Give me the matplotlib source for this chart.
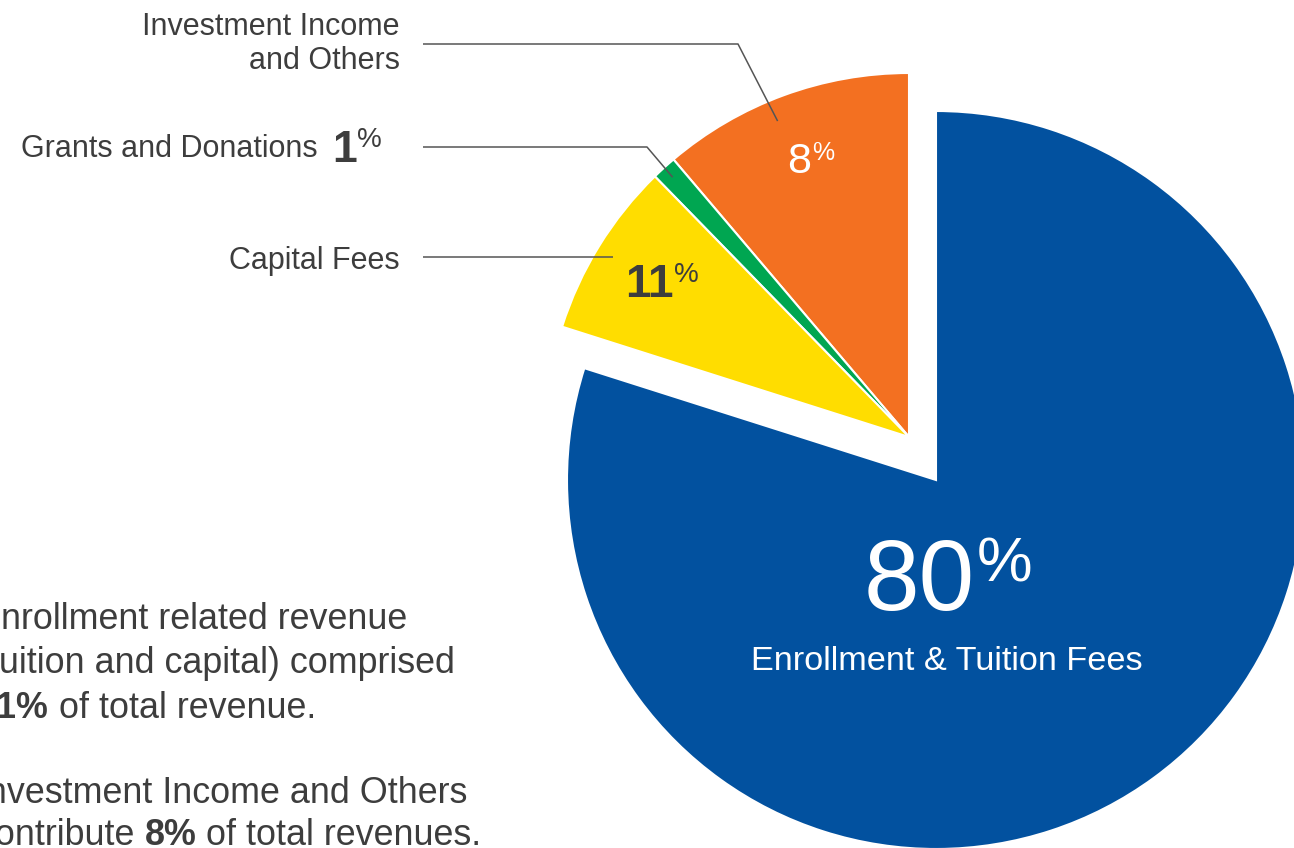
import matplotlib
matplotlib.use("Agg")
import matplotlib.pyplot as plt
import numpy as np

W, H = 1294, 848

# wedges, counter-clockwise from 12 o'clock
segments = ["Investment Income and Others", "Grants and Donations",
            "Capital Fees", "Enrollment & Tuition Fees"]
shares = [11.2, 1.1, 7.8, 79.9]          # size of each wedge as drawn
colors = ["#F37021", "#00A651", "#FFDD00", "#02519F"]
printed_pct = ["8", "1", "11", "80"]      # numbers printed on the chart

TEXT = "#3d3d3d"
FONT = "Liberation Sans"
plt.rcParams["font.family"] = [FONT, "DejaVu Sans"]

fig = plt.figure(figsize=(W / 100, H / 100), dpi=100)
ax = fig.add_axes([0, 0, 1, 1])


def draw_pie(center, radius, visible):
    wedges, _ = ax.pie(shares, colors=colors, startangle=90, counterclock=True,
                       center=center, radius=radius,
                       wedgeprops=dict(edgecolor="white", linewidth=1.5))
    for w, v in zip(wedges, visible):
        w.set_visible(v)
    return wedges


# main slice and the pulled-out group of small slices
main = draw_pie((936, H - 480), 369, [False, False, False, True])
small = draw_pie((909, H - 437), 364, [True, True, True, False])

ax.set_xlim(0, W)
ax.set_ylim(0, H)
ax.set_aspect("equal")
ax.axis("off")


def txt(x, y, s, size, **kw):
    kw.setdefault("color", TEXT)
    kw.setdefault("va", "baseline")
    return ax.text(x, H - y, s, fontsize=size, **kw)


def anchor(w, t=0.5, frac=0.95):
    th = np.deg2rad(w.theta1 + t * (w.theta2 - w.theta1))
    return (w.center[0] + frac * w.r * np.cos(th),
            w.center[1] + frac * w.r * np.sin(th))


# leader lines: label side -> elbow -> inside wedge
elbows = [(738, 44), (647, 147), None]
line_y = [44, 147, 257]
where = [(0.56, 0.94), (0.5, 0.965), (0.52, 0.95)]
for w, elb, ly, (t, fr) in zip(small[:3], elbows, line_y, where):
    px, py = anchor(w, t, fr)
    xs, ys = [423], [H - ly]
    if elb is not None:
        xs.append(elb[0])
        ys.append(H - elb[1])
    else:
        py = H - ly
    xs.append(px)
    ys.append(py)
    ax.plot(xs, ys, color="#555555", lw=1.1, solid_capstyle="butt")

# outside labels
LB = 22
txt(400, 35, "Investment Income", LB, ha="right")
txt(400, 69, "and Others", LB, ha="right")
txt(318, 157, "Grants and Donations", LB, ha="right")
txt(332, 162, printed_pct[1], 32, ha="left", fontweight="bold")
txt(357, 147, "%", 20, ha="left")
txt(400, 269, "Capital Fees", LB, ha="right")

# numbers inside wedges
txt(811, 173, printed_pct[0], 31, ha="right", color="white")
txt(812, 160, "%", 18, ha="left", color="white")
txt(674, 297, printed_pct[2], 33, ha="right", fontweight="bold")
txt(674, 282, "%", 20, ha="left")
txt(975, 610, printed_pct[3], 72, ha="right", color="white")
txt(977, 582, "%", 45, ha="left", color="white")
txt(947, 670, segments[3], 24.7, ha="center", color="white")

# commentary block on the left (partly cut off by the frame)
LS = 25.8
lx = -23
txt(lx, 629, "Enrollment related revenue", LS, ha="left")
txt(lx, 673, "(tuition and capital) comprised", LS, ha="left")
t = txt(lx, 718, "91%", LS, ha="left", fontweight="bold")
ax.annotate(" of total revenue.", xy=(1, 0), xycoords=t, va="bottom",
            fontsize=LS, color=TEXT)
txt(lx, 803, "Investment Income and Others", LS, ha="left")
t = txt(lx, 845, "contribute ", LS, ha="left")
t = ax.annotate("8%", xy=(1, 0), xycoords=t, va="bottom",
                fontsize=LS, color=TEXT, fontweight="bold")
ax.annotate(" of total revenues.", xy=(1, 0), xycoords=t, va="bottom",
            fontsize=LS, color=TEXT)

fig.savefig("out.png", dpi=100)
